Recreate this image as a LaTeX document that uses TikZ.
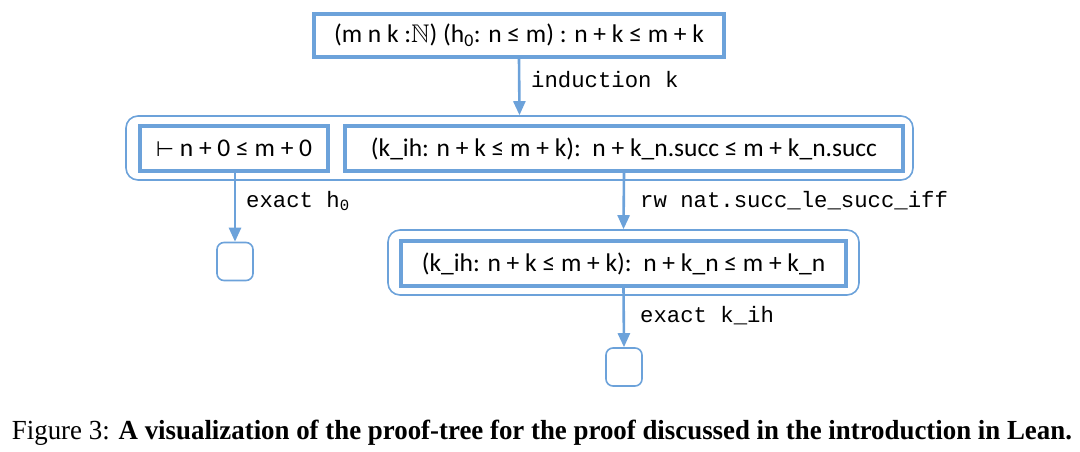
\documentclass[tikz,border=0pt]{standalone}
\usepackage{amssymb}
\usepackage{graphicx}
\usepackage{fontspec}
\setmainfont{Liberation Serif}
\newfontfamily\goalfont{Carlito}
\newfontfamily\tacfont{Liberation Mono}
\newfontfamily\symfont{DejaVu Sans}
\usetikzlibrary{arrows.meta}
\definecolor{leanblue}{RGB}{108,162,218}
\tikzset{
  goal/.style={draw=leanblue, line width=3.2pt, inner sep=0pt, font=\goalfont\fontsize{25.5}{28}\selectfont},
  goalgroup/.style={draw=leanblue, line width=1.6pt, rounded corners=12pt, inner sep=0pt},
  solved/.style={draw=leanblue, line width=1.6pt, rounded corners=7pt, minimum width=36pt, minimum height=38pt},
  tactic/.style={anchor=west, inner sep=0pt, font=\tacfont\fontsize{22.3}{25}\selectfont},
  tacarrow/.style={draw=leanblue, line width=2.6pt, -{Triangle[length=14pt,width=12pt]}},
}
\begin{document}
\begin{tikzpicture}[x=1pt, y=-1pt]
    \useasboundingbox (0,0) rectangle (1080,452);
    % theorem
    \node[goal, minimum width=410pt, minimum height=43pt] (thm) at (519, 35.5) {(m n k :$\mathbb{N}$) (h\textsubscript{0}: n ≤ m) : n + k ≤ m + k};
    % after induction
    \node[goalgroup, minimum width=787pt, minimum height=64pt] (grpA) at (519.5, 148) {};
    \node[goal, minimum width=188pt, minimum height=45pt] (zero) at (234, 148.5) {{\symfont\fontsize{21}{24}\selectfont ⊢} n + 0 ≤ m + 0};
    \node[goal, minimum width=558pt, minimum height=45pt] (succ) at (624, 148.5) {(k\_ih: n + k ≤ m + k):\ \ n + k\_n.succ ≤ m + k\_n.succ};
    % after rewrite
    \node[goalgroup, minimum width=471pt, minimum height=65pt] (grpB) at (623.5, 262.5) {};
    \node[goal, minimum width=445pt, minimum height=45pt] (ih) at (623.5, 263.5) {(k\_ih: n + k ≤ m + k):\ \ n + k\_n ≤ m + k\_n};
    % closed goals
    \node[solved] (doneA) at (235, 261.5) {};
    \node[solved] (doneB) at (624, 367) {};
    % tactics
    \draw[tacarrow] (thm.south) -- (grpA.north);
    \node[tactic] (tacInd) at (531, 80) {induction k};
    \draw[tacarrow] (zero.south -| doneA) -- (doneA.north);
    \node[tactic] (tacExactA) at (246, 201) {exact h\textsubscript{0}};
    \draw[tacarrow] (succ.south) -- (grpB.north);
    \node[tactic] (tacRw) at (640, 201) {rw nat.succ\_le\_succ\_iff};
    \draw[tacarrow] (ih.south) -- (doneB.north);
    \node[tactic] (tacExactB) at (640, 316) {exact k\_ih};
    % caption
    \node[anchor=base, inner sep=0pt, font=\fontsize{27.6}{30}\selectfont] (caption) at (542, 439) {\resizebox{1060pt}{\height}{Figure 3: \textbf{A visualization of the proof-tree for the proof discussed in the introduction in Lean.}}};
\end{tikzpicture}
\end{document}
